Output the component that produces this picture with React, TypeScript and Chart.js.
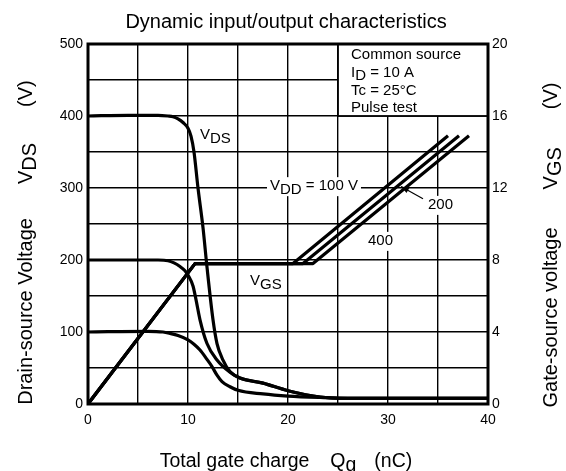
import React, { useEffect, useRef } from "react";
import { Chart, registerables } from "chart.js";

Chart.register(...registerables);

const FONT = '"Liberation Sans", Arial, Helvetica, sans-serif';

// Gate charge (nC) and drain-source voltage (V) for each VDD
const qVds400 = [0, 4, 7, 8, 8.5, 9, 9.5, 10, 10.3, 10.6, 11, 11.5, 11.9, 12.5, 12.9, 13.5, 14.2, 15.2, 17.5, 20, 23.2, 26, 40];
const vVds400 = [400, 401, 401, 400, 399, 396, 391, 383, 372, 350, 300, 245, 190, 117, 84, 61, 45, 36, 29, 18.5, 9.7, 8, 8];

const qVds200 = [0, 7, 8, 8.6, 9.2, 9.7, 10, 10.5, 10.8, 11.2, 11.9, 12.9, 14.2, 15.2, 17.5, 20, 23.2, 26, 40];
const vVds200 = [200, 200, 199, 196, 191, 185, 179, 164, 145, 117, 84, 61, 44, 36, 29, 18.5, 9.7, 8, 8];

const qVds100 = [0, 6, 7.5, 8.2, 9, 10, 10.6, 11.2, 11.9, 12.4, 12.9, 13.4, 14.2, 15, 17.5, 20, 23.2, 26, 40];
const vVds100 = [100, 101, 100, 98, 95, 89, 83, 75, 62, 52, 40, 31, 24, 19, 14, 11, 9, 8, 8];

// Gate-source voltage (V) vs gate charge for each VDD
const qVgs100 = [0, 10.7, 20.5, 36.0];
const qVgs200 = [0, 10.7, 21.5, 37.1];
const qVgs400 = [0, 10.7, 22.5, 38.1];
const vVgs = [0, 7.8, 7.8, 14.9];

const xTicks = [0, 10, 20, 30, 40];
const yTicks = [0, 100, 200, 300, 400, 500];
const y2Ticks = [0, 4, 8, 12, 16, 20];

const conditions = ["Common source", "I|D| = 10 A", "Tc = 25°C", "Pulse test"];

type Part = { t: string; sub?: boolean; gap?: number };

function parseSub(s: string): Part[] {
  const out: Part[] = [];
  const seg = s.split("|");
  seg.forEach((p, i) => {
    if (p) out.push({ t: p, sub: i % 2 === 1 });
  });
  return out;
}

function drawRich(
  ctx: CanvasRenderingContext2D,
  parts: Part[],
  x: number,
  y: number,
  size: number,
  align: "left" | "center",
  subShift: number
) {
  ctx.font = `${size}px ${FONT}`;
  let total = 0;
  const widths = parts.map((p) => {
    const w = ctx.measureText(p.t).width + (p.gap || 0);
    total += w;
    return w;
  });
  let cx = align === "center" ? x - total / 2 : x;
  ctx.textAlign = "left";
  ctx.textBaseline = "alphabetic";
  parts.forEach((p, i) => {
    ctx.fillText(p.t, cx + (p.gap || 0), y + (p.sub ? subShift : 0));
    cx += widths[i];
  });
  return total;
}

const pts = (q: number[], v: number[]) => q.map((x, i) => ({ x, y: v[i] }));

const annotPlugin = {
  id: "annot",
  beforeDatasetsDraw(chart: any) {
    const { ctx, chartArea: a } = chart;
    const xs = chart.scales.x;
    const ys = chart.scales.y;
    const X = (q: number) => xs.getPixelForValue(q);
    const Y = (v: number) => ys.getPixelForValue(v);
    ctx.save();
    // conditions box
    const bx = X(25), by = Y(500), bw = X(40) - X(25), bh = Y(400) - Y(500);
    ctx.fillStyle = "#fff";
    ctx.fillRect(bx, by, bw, bh);
    ctx.strokeStyle = "#000";
    ctx.lineWidth = 1.8;
    ctx.strokeRect(bx, by, bw, bh);
    ctx.fillStyle = "#000";
    const baseV = [479, 454.6, 429, 406];
    conditions.forEach((c, i) => {
      drawRich(ctx, parseSub(c), X(26.3), Y(baseV[i]), 15, "left", 3);
    });

    const label = (parts: Part[], q: number, v: number, bg: boolean) => {
      ctx.font = `15px ${FONT}`;
      let w = 0;
      parts.forEach((p) => (w += ctx.measureText(p.t).width + (p.gap || 0)));
      const lx = X(q), ly = Y(v);
      if (bg) {
        ctx.fillStyle = "#fff";
        ctx.fillRect(lx - 3, ly - 13, w + 6, 19);
      }
      ctx.fillStyle = "#000";
      drawRich(ctx, parts, lx, ly, 15, "left", 3.5);
    };
    label([{ t: "V" }, { t: "DS", sub: true }], 11.2, 368, false);
    label([{ t: "V" }, { t: "GS", sub: true }], 16.2, 165, false);
    label([{ t: "V" }, { t: "DD", sub: true }, { t: " = 100 V" }], 18.2, 297, true);
    label([{ t: "200" }], 34, 271, true);
    label([{ t: "400" }], 28, 221, true);

    ctx.strokeStyle = "#000";
    ctx.lineWidth = 3;
    ctx.strokeRect(a.left, a.top, a.right - a.left, a.bottom - a.top);
    ctx.restore();
  },
  afterDatasetsDraw(chart: any) {
    const { ctx } = chart;
    const xs = chart.scales.x;
    const ys = chart.scales.y;
    const x1 = xs.getPixelForValue(33.5), y1 = ys.getPixelForValue(285);
    const x2 = xs.getPixelForValue(31.3), y2 = ys.getPixelForValue(302);
    ctx.save();
    ctx.strokeStyle = "#000";
    ctx.fillStyle = "#000";
    ctx.lineWidth = 1.2;
    ctx.beginPath();
    ctx.moveTo(x1, y1);
    ctx.lineTo(x2, y2);
    ctx.stroke();
    const ang = Math.atan2(y2 - y1, x2 - x1);
    const L = 8, W = 3;
    ctx.beginPath();
    ctx.moveTo(x2, y2);
    ctx.lineTo(x2 - L * Math.cos(ang) + W * Math.sin(ang), y2 - L * Math.sin(ang) - W * Math.cos(ang));
    ctx.lineTo(x2 - L * Math.cos(ang) - W * Math.sin(ang), y2 - L * Math.sin(ang) + W * Math.cos(ang));
    ctx.closePath();
    ctx.fill();
    ctx.restore();
  },
  afterDraw(chart: any) {
    const { ctx, chartArea: a } = chart;
    ctx.save();
    ctx.fillStyle = "#000";
    const cx = (a.left + a.right) / 2 - 2;
    drawRich(ctx, [{ t: "Dynamic input/output characteristics" }], cx, 28, 20, "center", 0);
    drawRich(
      ctx,
      [{ t: "Total gate charge" }, { t: "Q", gap: 21 }, { t: "g", sub: true }, { t: "(nC)", gap: 18 }],
      cx,
      467,
      19.5,
      "center",
      4
    );
    ctx.save();
    ctx.translate(31.5, 242.5);
    ctx.rotate(-Math.PI / 2);
    drawRich(
      ctx,
      [{ t: "Drain-source Voltage" }, { t: "V", gap: 34 }, { t: "DS", sub: true }, { t: "(V)", gap: 36 }],
      0,
      0,
      20,
      "center",
      4
    );
    ctx.restore();
    ctx.save();
    ctx.translate(557, 245);
    ctx.rotate(-Math.PI / 2);
    drawRich(
      ctx,
      [{ t: "Gate-source voltage" }, { t: "V", gap: 38 }, { t: "GS", sub: true }, { t: "(V)", gap: 38 }],
      0,
      0,
      20,
      "center",
      4
    );
    ctx.restore();
    ctx.restore();
  },
};

export default function App() {
  const ref = useRef<HTMLCanvasElement>(null);
  useEffect(() => {
    if (!ref.current) return;
    const line = (data: any[], yAxisID: string, smooth: boolean) => ({
      data,
      yAxisID,
      borderColor: "#000",
      borderWidth: 3.2,
      pointRadius: 0,
      fill: false,
      tension: 0,
      cubicInterpolationMode: smooth ? ("monotone" as const) : ("default" as const),
      borderCapStyle: "butt" as const,
      borderJoinStyle: "round" as const,
    });
    const tickFont = { family: FONT, size: 14 };
    const chart = new Chart(ref.current, {
      type: "line",
      data: {
        datasets: [
          line(pts(qVds400, vVds400), "y", true),
          line(pts(qVds200, vVds200), "y", true),
          line(pts(qVds100, vVds100), "y", true),
          line(pts(qVgs100, vVgs), "y2", false),
          line(pts(qVgs200, vVgs), "y2", false),
          line(pts(qVgs400, vVgs), "y2", false),
        ],
      },
      plugins: [annotPlugin],
      options: {
        animation: false,
        responsive: false,
        devicePixelRatio: 1,
        layout: { padding: { top: 44, left: 0, right: 0, bottom: 0 } },
        plugins: { legend: { display: false }, title: { display: false }, tooltip: { enabled: false } },
        events: [],
        scales: {
          x: {
            type: "linear",
            min: 0,
            max: 40,
            afterFit: (s: any) => {
              s.height = 67;
            },
            afterBuildTicks: (s: any) => {
              const t: any[] = [];
              for (let v = 0; v <= 40; v += 5) t.push({ value: v });
              s.ticks = t;
            },
            ticks: {
              autoSkip: false,
              maxRotation: 0,
              padding: 8,
              color: "#000",
              font: tickFont,
              callback: (v: any) => (xTicks.includes(Number(v)) ? String(v) : ""),
            },
            grid: { color: "#000", lineWidth: 1.4, drawTicks: false },
            border: { display: false },
          },
          y: {
            type: "linear",
            position: "left",
            min: 0,
            max: 500,
            afterFit: (s: any) => {
              s.width = 88;
            },
            afterBuildTicks: (s: any) => {
              const t: any[] = [];
              for (let v = 0; v <= 500; v += 50) t.push({ value: v });
              s.ticks = t;
            },
            ticks: {
              autoSkip: false,
              padding: 5,
              color: "#000",
              font: tickFont,
              callback: (v: any) => (yTicks.includes(Number(v)) ? String(v) : ""),
            },
            grid: { color: "#000", lineWidth: 1.4, drawTicks: false },
            border: { display: false },
          },
          y2: {
            type: "linear",
            position: "right",
            min: 0,
            max: 20,
            afterFit: (s: any) => {
              s.width = 78;
            },
            afterBuildTicks: (s: any) => {
              s.ticks = y2Ticks.map((v) => ({ value: v }));
            },
            ticks: {
              autoSkip: false,
              padding: 4,
              color: "#000",
              font: tickFont,
              callback: (v: any) => String(v),
            },
            grid: { display: false, drawTicks: false },
            border: { display: false },
          },
        },
      },
    });
    return () => chart.destroy();
  }, []);
  return (
    <div style={{ position: "absolute", left: 0, top: 0, width: 566, height: 471, background: "#fff" }}>
      <canvas ref={ref} width={566} height={471} style={{ width: 566, height: 471, display: "block" }} />
    </div>
  );
}
